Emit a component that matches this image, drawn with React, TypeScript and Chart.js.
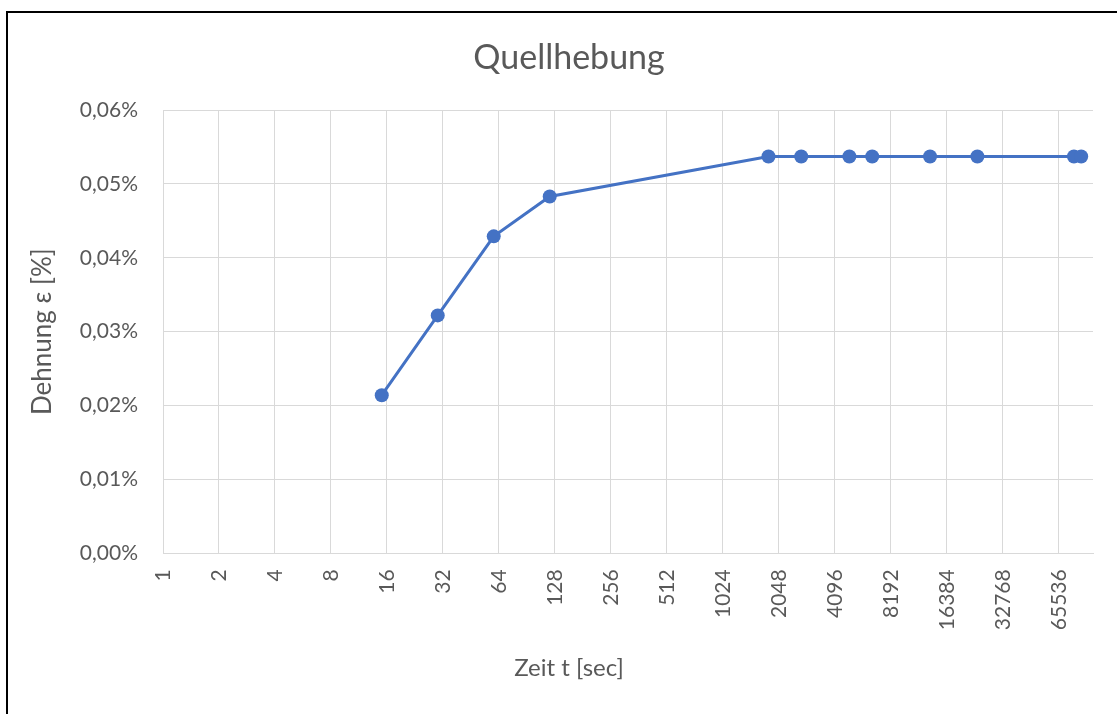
import React, { useEffect, useRef } from "react";
import { Chart, registerables } from "chart.js";

Chart.register(...registerables);

// Zeit t [sec] of each measurement
const timeSec = [15, 30, 60, 120, 1800, 2700, 4900, 6500, 13300, 23900, 79000, 86400];
// Dehnung ε [%]
const strainPct = [0.0214, 0.0322, 0.0429, 0.0483, 0.0537, 0.0537, 0.0537, 0.0537, 0.0537, 0.0537, 0.0537, 0.0537];
// x-axis tick labels (powers of two)
const xTickValues = [1, 2, 4, 8, 16, 32, 64, 128, 256, 512, 1024, 2048, 4096, 8192, 16384, 32768, 65536];

const chartTitle = "Quellhebung";
const xTitle = "Zeit t [sec]";
const yTitle = "Dehnung ε [%]";

const TEXT = "#595959";
const GRID = "#d9d9d9";
const BLUE = "#4472C4";
const FONT = "Lato";

const frame = {
  id: "frame",
  beforeDraw(chart: any) {
    const ctx = chart.ctx;
    ctx.save();
    ctx.fillStyle = "#ffffff";
    ctx.fillRect(0, 0, chart.width, chart.height);
    ctx.strokeStyle = "#000000";
    ctx.lineWidth = 2;
    ctx.strokeRect(7, 12, 1300, 900);
    ctx.restore();
  },
};

export default function App() {
  const ref = useRef<HTMLCanvasElement | null>(null);

  useEffect(() => {
    document.body.style.margin = "0";
    document.body.style.overflow = "hidden";
    const data = timeSec.map((t, i) => ({ x: t, y: strainPct[i] }));
    const chart = new Chart(ref.current as HTMLCanvasElement, {
      type: "scatter",
      data: {
        datasets: [
          {
            data,
            showLine: true,
            borderColor: BLUE,
            borderWidth: 3,
            backgroundColor: BLUE,
            pointBackgroundColor: BLUE,
            pointBorderColor: BLUE,
            pointBorderWidth: 0,
            pointRadius: 7,
            tension: 0,
          } as any,
        ],
      },
      options: {
        responsive: false,
        animation: false,
        layout: { padding: { left: 27, right: 6, top: 12, bottom: 0 } },
        plugins: {
          legend: { display: false },
          tooltip: { enabled: false },
          title: {
            display: true,
            text: chartTitle,
            color: TEXT,
            font: { family: FONT, size: 34, weight: "normal" as any },
            padding: { top: 25.6, bottom: 31.6 },
          },
          subtitle: {
            display: true,
            position: "bottom",
            text: xTitle,
            color: TEXT,
            font: { family: FONT, size: 24, weight: "normal" as any },
            padding: { top: 5, bottom: 31.6 },
          },
        },
        scales: {
          x: {
            type: "logarithmic",
            min: 1,
            max: 100000,
            afterBuildTicks: (s: any) => {
              s.ticks = xTickValues.map((v) => ({ value: v }));
            },
            afterFit: (s: any) => {
              s.height = 95.3;
            },
            ticks: {
              autoSkip: false,
              minRotation: 90,
              maxRotation: 90,
              padding: 16,
              color: TEXT,
              font: { family: FONT, size: 21 },
              callback: (v: any) => String(v),
            },
            grid: { color: GRID, lineWidth: 1, drawTicks: false },
            border: { color: GRID, width: 1 },
          },
          y: {
            min: 0,
            max: 0.06,
            afterFit: (s: any) => {
              s.width = 136;
            },
            ticks: {
              stepSize: 0.01,
              padding: 25,
              color: TEXT,
              font: { family: FONT, size: 21 },
              callback: (v: any) => Number(v).toFixed(2).replace(".", ",") + "%",
            },
            grid: { color: GRID, lineWidth: 1, drawTicks: false },
            border: { display: false },
            title: {
              display: true,
              text: yTitle,
              color: TEXT,
              font: { family: FONT, size: 26 },
              padding: { top: 0, bottom: 0 },
            },
          },
          y2: {
            position: "right",
            display: true,
            afterFit: (s: any) => {
              s.width = 18;
            },
            ticks: { display: false },
            grid: { display: false, drawTicks: false },
            border: { display: false },
          },
        },
      } as any,
      plugins: [frame],
    });
    return () => chart.destroy();
  }, []);

  return <canvas ref={ref} width={1117} height={714} style={{ display: "block" }} />;
}
